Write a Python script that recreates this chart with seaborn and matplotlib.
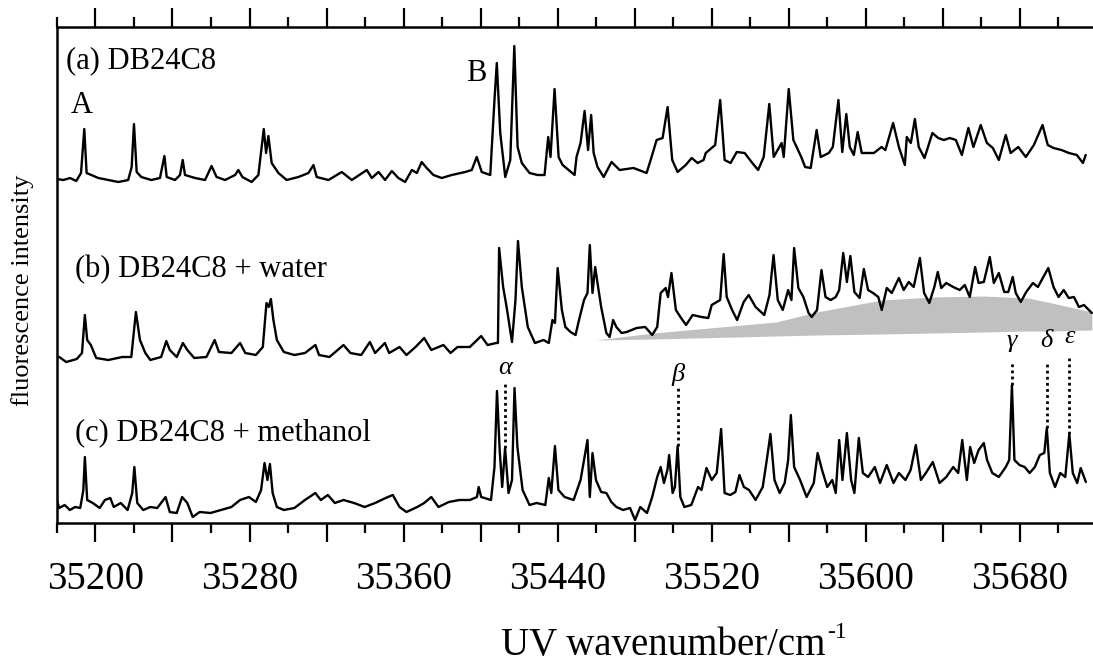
import numpy as np
import pandas as pd
import seaborn as sns
import matplotlib.pyplot as plt
from matplotlib.ticker import MultipleLocator, FuncFormatter

# spectra: wavenumber (cm-1) and intensity (arb. units, traces stacked)
wn_a = [35180.0, 35183.3, 35186.8, 35190.0, 35192.5, 35194.2, 35195.4, 35197.8, 35201.5, 35206.7,
        35211.9, 35217.0, 35218.8, 35220.0, 35221.4, 35223.8, 35229.0, 35233.5, 35235.8, 35237.0,
        35241.3, 35243.9, 35245.3, 35246.5, 35251.7, 35256.9, 35260.3, 35262.9, 35267.3, 35272.5,
        35274.2, 35276.3, 35281.1, 35284.6, 35287.4, 35288.6, 35289.8, 35291.5, 35295.0, 35299.3,
        35305.4, 35310.6, 35313.2, 35314.9, 35321.0, 35327.9, 35333.1, 35340.9, 35343.5, 35347.0,
        35350.4, 35353.9, 35357.3, 35360.8, 35364.3, 35366.9, 35369.4, 35372.0, 35375.5, 35379.8,
        35385.0, 35392.0, 35395.4, 35398.0, 35400.6, 35405.0, 35407.2, 35408.4, 35410.2, 35412.8,
        35415.4, 35417.5, 35419.2, 35421.4, 35425.4, 35429.6, 35433.2, 35435.1, 35436.3, 35438.4,
        35440.5, 35442.6, 35445.7, 35448.8, 35449.8, 35451.9, 35454.0, 35455.8, 35457.4, 35458.7,
        35460.7, 35463.9, 35468.0, 35472.2, 35479.4, 35486.2, 35488.3, 35491.4, 35494.5, 35497.1,
        35499.5, 35502.3, 35506.5, 35509.6, 35512.7, 35515.8, 35516.9, 35521.8, 35524.4, 35526.7,
        35529.8, 35533.0, 35537.1, 35541.1, 35544.1, 35547.0, 35549.9, 35552.2, 35556.3, 35557.4,
        35560.0, 35562.4, 35566.5, 35568.5, 35571.4, 35574.5, 35576.6, 35580.8, 35582.9, 35585.8,
        35587.8, 35589.9, 35591.7, 35593.8, 35595.8, 35597.9, 35604.2, 35608.2, 35610.2, 35614.2,
        35617.2, 35620.3, 35621.3, 35623.4, 35625.5, 35627.5, 35630.5, 35634.6, 35637.6, 35640.5,
        35643.6, 35646.8, 35649.9, 35653.3, 35655.9, 35659.7, 35662.9, 35666.0, 35669.1, 35672.7,
        35675.2, 35679.2, 35683.1, 35687.3, 35691.8, 35694.5, 35697.5, 35701.6, 35705.5, 35709.6,
        35712.8, 35714.2]
int_a = [344, 343, 345, 342, 350, 394, 350, 348, 345, 343,
         341, 343, 356, 399, 351, 346, 343, 345, 367, 346,
         343, 348, 363, 348, 345, 343, 357, 346, 343, 348,
         353, 346, 341, 348, 394, 370, 387, 360, 350, 343,
         346, 350, 358, 346, 343, 351, 343, 353, 345, 351,
         343, 352, 345, 341, 353, 350, 361, 355, 348, 345,
         348, 351, 353, 366, 351, 348, 423, 460, 390, 346,
         363, 477, 376, 360, 350, 348, 348, 386, 366, 434,
         366, 358, 353, 348, 366, 380, 412, 373, 408, 370,
         356, 346, 361, 353, 355, 350, 363, 383, 385, 416,
         363, 351, 358, 365, 360, 363, 370, 378, 423, 363,
         360, 371, 370, 360, 353, 366, 419, 366, 380, 366,
         434, 383, 366, 356, 355, 393, 366, 370, 376, 423,
         371, 409, 376, 368, 391, 370, 370, 376, 373, 400,
         376, 358, 386, 380, 404, 376, 365, 390, 385, 383,
         385, 383, 368, 395, 376, 398, 380, 375, 363, 388,
         370, 376, 366, 378, 398, 378, 375, 373, 370, 368,
         360, 368]

wn_b = [35181.2, 35184.8, 35190.3, 35193.0, 35194.5, 35195.7, 35197.6, 35200.4, 35206.7, 35213.9,
        35218.6, 35221.0, 35223.1, 35225.9, 35228.5, 35234.1, 35236.8, 35238.6, 35242.2, 35245.4,
        35247.7, 35251.3, 35257.6, 35261.9, 35264.1, 35270.6, 35275.1, 35277.8, 35283.3, 35286.9,
        35288.8, 35290.0, 35291.1, 35292.4, 35294.2, 35297.8, 35303.3, 35308.8, 35314.2, 35316.1,
        35321.5, 35328.8, 35332.4, 35338.0, 35342.5, 35345.2, 35350.3, 35352.5, 35357.9, 35361.5,
        35366.2, 35370.7, 35374.4, 35380.7, 35384.4, 35388.0, 35394.4, 35400.3, 35403.6, 35408.1,
        35409.0, 35409.6, 35411.7, 35413.5, 35416.3, 35418.1, 35419.4, 35421.4, 35424.5, 35428.2,
        35432.7, 35435.4, 35437.3, 35438.6, 35440.0, 35442.2, 35444.0, 35446.7, 35449.3, 35451.1,
        35453.7, 35455.5, 35456.7, 35458.1, 35459.5, 35460.7, 35462.6, 35465.3, 35467.0, 35468.8,
        35470.5, 35473.2, 35475.8, 35481.0, 35485.5, 35489.1, 35491.7, 35493.5, 35496.1, 35497.3,
        35499.1, 35501.4, 35504.1, 35506.7, 35510.1, 35514.7, 35518.2, 35520.0, 35524.4, 35526.2,
        35527.8, 35530.6, 35533.2, 35536.6, 35539.2, 35542.8, 35547.3, 35550.0, 35552.1, 35554.3,
        35556.9, 35559.7, 35561.4, 35562.8, 35565.0, 35567.6, 35570.3, 35571.9, 35574.7, 35577.0,
        35579.1, 35581.8, 35584.4, 35586.2, 35588.3, 35590.2, 35592.0, 35594.1, 35596.8, 35599.0,
        35601.2, 35603.8, 35606.5, 35608.3, 35610.9, 35613.5, 35617.2, 35619.7, 35622.3, 35624.9,
        35628.1, 35630.3, 35633.0, 35635.6, 35637.4, 35639.2, 35641.8, 35645.4, 35648.8, 35651.4,
        35654.0, 35656.8, 35658.6, 35661.3, 35664.4, 35666.5, 35669.1, 35671.9, 35674.0, 35676.3,
        35677.9, 35680.5, 35683.3, 35686.8, 35689.4, 35692.2, 35694.8, 35697.5, 35700.1, 35702.8,
        35705.4, 35708.1, 35710.7, 35713.3, 35717.4]
int_b = [166, 161, 164, 170, 208, 183, 178, 165, 163, 166,
         166, 211, 183, 170, 163, 166, 182, 173, 166, 180,
         173, 165, 166, 183, 171, 170, 180, 170, 168, 176,
         220, 216, 224, 203, 183, 171, 168, 170, 178, 168,
         166, 178, 170, 168, 181, 170, 180, 170, 176, 168,
         176, 185, 173, 178, 170, 176, 176, 187, 178, 180,
         180, 275, 236, 216, 181, 223, 282, 236, 196, 180,
         183, 180, 203, 200, 255, 213, 196, 191, 188, 203,
         223, 230, 278, 230, 256, 240, 216, 190, 186, 203,
         196, 190, 191, 195, 196, 188, 196, 230, 235, 226,
         250, 213, 205, 198, 208, 206, 205, 218, 223, 269,
         226, 213, 203, 221, 228, 216, 208, 228, 268, 223,
         213, 233, 223, 275, 235, 226, 210, 206, 213, 253,
         226, 223, 226, 233, 270, 241, 267, 231, 225, 254,
         233, 230, 226, 213, 235, 230, 245, 233, 241, 236,
         265, 230, 220, 236, 251, 235, 240, 236, 233, 238,
         226, 256, 240, 241, 266, 240, 250, 231, 231, 246,
         230, 221, 231, 240, 236, 246, 255, 236, 226, 233,
         225, 226, 216, 218, 210]

# grey band under trace (b)
band_wn = [35459.7, 35489.8, 35553.5, 35574.5, 35608.3, 35634.8, 35661.3, 35684.2, 35696.6, 35717.4]
band_top = [183, 190, 201, 211, 223, 226, 227, 225, 220, 211]
band_bottom = [183, 184, 187, 188, 189, 190, 191, 192, 192, 193]

wn_c = [35179.4, 35181.2, 35184.0, 35186.7, 35189.4, 35192.1, 35193.7, 35194.5, 35195.7, 35198.6,
        35202.2, 35204.9, 35207.7, 35209.5, 35213.1, 35216.7, 35219.1, 35220.2, 35221.7, 35224.8,
        35228.5, 35232.1, 35236.4, 35238.6, 35242.2, 35245.0, 35247.7, 35250.5, 35254.1, 35259.7,
        35265.1, 35270.6, 35275.1, 35279.7, 35283.3, 35286.0, 35287.8, 35289.3, 35290.6, 35292.0,
        35294.2, 35297.8, 35303.3, 35308.8, 35314.2, 35317.0, 35320.7, 35324.3, 35328.8, 35334.3,
        35339.8, 35345.2, 35350.7, 35354.4, 35357.9, 35361.5, 35367.1, 35370.7, 35374.4, 35378.1,
        35383.5, 35389.0, 35394.4, 35398.1, 35399.0, 35400.3, 35405.4, 35407.2, 35408.5, 35409.9,
        35411.2, 35412.7, 35414.5, 35416.3, 35417.6, 35419.1, 35421.8, 35425.4, 35429.1, 35433.6,
        35435.4, 35436.7, 35438.6, 35440.4, 35443.6, 35448.3, 35451.9, 35453.7, 35455.5, 35456.7,
        35458.1, 35459.9, 35462.6, 35465.3, 35467.9, 35470.5, 35474.0, 35477.6, 35480.2, 35482.9,
        35486.4, 35489.1, 35491.7, 35493.5, 35495.2, 35497.0, 35497.9, 35499.7, 35500.9, 35502.3,
        35503.7, 35505.8, 35509.4, 35512.9, 35514.7, 35517.3, 35520.0, 35522.6, 35524.9, 35526.7,
        35529.6, 35532.3, 35534.4, 35536.7, 35539.4, 35542.8, 35546.5, 35548.6, 35550.5, 35552.6,
        35555.3, 35557.9, 35559.7, 35561.1, 35562.8, 35565.9, 35569.3, 35573.0, 35575.0, 35577.3,
        35580.0, 35582.6, 35584.4, 35586.2, 35587.9, 35590.2, 35592.4, 35594.1, 35596.4, 35598.5,
        35601.2, 35604.7, 35607.4, 35610.9, 35614.4, 35617.2, 35620.6, 35623.3, 35626.0, 35628.6,
        35631.2, 35634.8, 35638.3, 35641.8, 35645.4, 35648.0, 35650.1, 35652.5, 35654.2, 35656.3,
        35658.6, 35661.3, 35663.0, 35665.7, 35669.1, 35672.7, 35674.5, 35675.9, 35677.2, 35679.8,
        35682.5, 35685.1, 35687.8, 35690.4, 35692.7, 35694.0, 35695.6, 35698.3, 35701.0, 35703.6,
        35705.7, 35707.5, 35709.8, 35711.6, 35714.3]
int_c = [26, 15, 18, 13, 16, 15, 33, 66, 23, 20,
         15, 23, 25, 16, 20, 13, 30, 56, 20, 13,
         16, 15, 26, 11, 10, 26, 20, 6, 11, 10,
         13, 16, 23, 26, 21, 33, 60, 43, 59, 30,
         16, 13, 15, 23, 30, 23, 28, 20, 23, 20,
         16, 20, 25, 28, 16, 11, 16, 20, 26, 16,
         21, 23, 23, 26, 36, 26, 23, 56, 132, 73,
         36, 75, 30, 43, 135, 76, 33, 18, 20, 18,
         45, 30, 77, 33, 26, 23, 43, 63, 83, 26,
         70, 43, 31, 30, 21, 16, 13, 15, 3, 16,
         10, 26, 46, 56, 40, 53, 68, 30, 36, 77,
         26, 16, 18, 36, 33, 55, 43, 50, 94, 30,
         28, 31, 48, 36, 33, 23, 36, 63, 89, 43,
         30, 40, 63, 108, 56, 43, 26, 40, 70, 53,
         36, 43, 30, 83, 43, 90, 43, 30, 85, 50,
         46, 56, 40, 58, 40, 50, 43, 53, 78, 43,
         50, 61, 40, 46, 56, 50, 83, 43, 76, 60,
         73, 80, 63, 50, 46, 56, 63, 138, 63, 58,
         56, 50, 56, 68, 70, 95, 50, 36, 50, 46,
         89, 50, 40, 55, 41]

# assigned bands in (c)
band_names = ["α", "β", "γ", "δ", "ε"]
band_pos = [35412.7, 35502.3, 35675.9, 35694.0, 35705.7]
band_peak = [75, 77, 138, 95, 89]
band_line_top = [141, 135, 161, 161, 165]

sns.set_style("ticks")
plt.rcParams["font.family"] = ["Liberation Serif", "DejaVu Serif"]
plt.rcParams["text.color"] = "black"
plt.rcParams["axes.labelcolor"] = "black"
plt.rcParams["xtick.color"] = "black"
plt.rcParams["xtick.labelcolor"] = "black"

fig = plt.figure(figsize=(10.93, 6.70), dpi=100)
ax = fig.add_axes([0.0521, 0.2194, 0.9479, 0.7403])

ax.fill_between(band_wn, band_bottom, band_top, color="#c0c0c0", lw=0, zorder=1)

for w, i in [(wn_a, int_a), (wn_b, int_b), (wn_c, int_c)]:
    df = pd.DataFrame({"wn": w, "I": i})
    sns.lineplot(data=df, x="wn", y="I", ax=ax, color="black", lw=1.7,
                 estimator=None, sort=False, zorder=2)

ax.vlines(band_pos, band_peak, band_line_top, colors="black", lw=2,
          linestyles=(0, (1, 1.2)), zorder=3)
for name, x, top in zip(band_names, band_pos, band_line_top):
    y = top + 14 if name in "αβ" else top + 21
    ax.text(x, y, name, ha="center", va="center", fontsize=19, style="italic")

ax.text(35193.1, 418, "A", ha="center", va="center", fontsize=22)
ax.text(35397.9, 450, "B", ha="center", va="center", fontsize=22)
ax.text(35184.8, 455, "(a) DB24C8", ha="left", va="baseline", fontsize=22)
ax.text(35189.5, 246, "(b) DB24C8 + water", ha="left", va="baseline", fontsize=22)
ax.text(35189.5, 83, "(c) DB24C8 + methanol", ha="left", va="baseline", fontsize=22)

ax.set_xlim(35180, 35718)
ax.set_ylim(0, 496)
ax.xaxis.set_major_locator(MultipleLocator(40))
ax.xaxis.set_minor_locator(MultipleLocator(20))
ax.xaxis.set_major_formatter(FuncFormatter(
    lambda v, p: f"{v:.0f}" if round(v - 35200) % 80 == 0 else ""))
ax.tick_params(axis="x", which="both", direction="out", top=True, labeltop=False,
               width=1.6, color="black", labelsize=28, pad=13)
ax.tick_params(axis="x", which="major", length=14)
ax.tick_params(axis="x", which="minor", length=7)
ax.set_yticks([])

for s in ["left", "top", "bottom"]:
    ax.spines[s].set_linewidth(1.8)
    ax.spines[s].set_color("black")
ax.spines["right"].set_visible(False)

# x label with a plain hyphen in the superscript, as in the original
ax.set_xlabel("UV wavenumber/cm", fontsize=28)
ax.xaxis.set_label_coords(0.585, -0.210)
ax.annotate("-1", xy=(1.0, 0.86), xycoords=ax.xaxis.label, xytext=(1, 0),
            textcoords="offset points", ha="left", va="center", fontsize=17)
ax.set_ylabel("fluorescence intensity", fontsize=19)
ax.yaxis.set_label_coords(-0.022, 0.47)

fig.savefig("out.png", dpi=100)
